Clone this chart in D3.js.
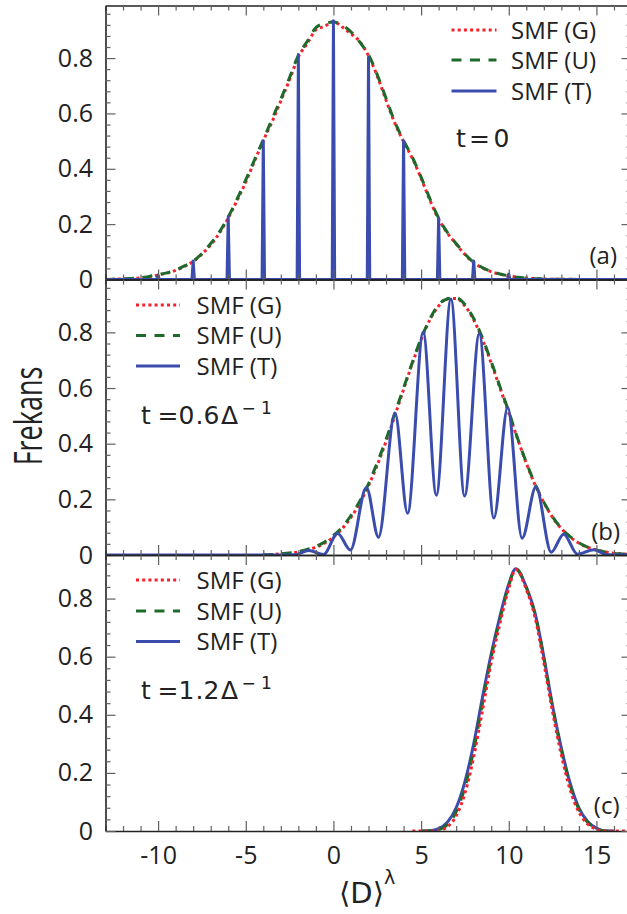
<!DOCTYPE html>
<html>
<head>
<meta charset="utf-8">
<script src="https://cdn.jsdelivr.net/npm/d3@7"></script>
<style>
  body { margin: 0; background: #fff; }
  svg { display: block; }
</style>
</head>
<body>
<svg id="chart" width="627" height="914"></svg>
<script>
// ---- Panel (a): t = 0 ----
const aX = [-13,-12.5,-12,-11.5,-11,-10.5,-10,-9.5,-9,-8.5,-8,-7.5,-7,-6.5,-6,-5.5,-5,-4.5,-4,-3.5,-3,-2.5,-2,-1.5,-1,-0.5,0,0.5,1,1.5,2,2.5,3,3.5,4,4.5,5,5.5,6,6.5,7,7.5,8,8.5,9,9.5,10,10.5,11,11.5,12,12.5,13,14,15,16,17];
const aG = [0,0.001,0.002,0.003,0.006,0.010,0.016,0.023,0.033,0.047,0.065,0.092,0.125,0.168,0.222,0.285,0.352,0.428,0.502,0.570,0.645,0.722,0.805,0.852,0.902,0.915,0.932,0.912,0.888,0.860,0.808,0.735,0.648,0.565,0.498,0.438,0.366,0.287,0.218,0.168,0.128,0.090,0.060,0.042,0.028,0.019,0.013,0.008,0.005,0.003,0.002,0.001,0.001,0,0,0,0];
const aU = [0,0.001,0.002,0.004,0.006,0.011,0.018,0.024,0.034,0.049,0.066,0.094,0.130,0.172,0.226,0.290,0.360,0.432,0.505,0.580,0.652,0.730,0.810,0.860,0.910,0.925,0.930,0.918,0.895,0.858,0.812,0.740,0.655,0.570,0.502,0.442,0.370,0.292,0.222,0.170,0.130,0.092,0.062,0.043,0.029,0.020,0.013,0.008,0.005,0.003,0.002,0.001,0.001,0,0,0,0];
// SMF (T) at t = 0: narrow spikes on even integers
const aSpikeX = [-10,-8,-6,-4,-2,0,2,4,6,8,10];
const aSpikeY = [0.016,0.067,0.227,0.501,0.813,0.935,0.802,0.501,0.221,0.067,0.020];

// ---- Panel (b): t = 0.6 / Delta ----
const bX = [-4,-3.5,-3,-2.5,-2,-1.5,-1,-0.5,0,0.5,1,1.5,2,2.5,3,3.5,4,4.5,5,5.5,6,6.5,7,7.5,8,8.5,9,9.5,10,10.5,11,11.5,12,12.5,13,13.5,14,14.5,15,15.5,16,16.5,17];
const bG = [0.001,0.002,0.004,0.006,0.011,0.018,0.028,0.043,0.065,0.095,0.135,0.186,0.249,0.323,0.408,0.500,0.595,0.689,0.774,0.845,0.895,0.922,0.922,0.895,0.845,0.774,0.689,0.600,0.510,0.418,0.330,0.252,0.188,0.135,0.095,0.065,0.043,0.028,0.018,0.011,0.006,0.004,0.002];
const bU = [0.001,0.002,0.004,0.007,0.012,0.020,0.031,0.047,0.070,0.100,0.142,0.193,0.256,0.332,0.415,0.508,0.600,0.692,0.778,0.848,0.900,0.920,0.925,0.900,0.850,0.780,0.695,0.605,0.515,0.420,0.333,0.255,0.190,0.137,0.096,0.066,0.044,0.028,0.018,0.011,0.006,0.004,0.002];
// SMF (T): alternating maxima / minima of the oscillation
const bTX = [-13,-3,-2.2,-1.4,-0.57,0.24,0.97,1.88,2.57,3.51,4.23,5.12,5.87,6.70,7.48,8.32,9.15,9.94,10.76,11.55,12.42,13.13,13.92,14.85,15.6,17];
const bTY = [0,0,0.001,0.016,0.002,0.077,0.018,0.243,0.064,0.510,0.150,0.800,0.215,0.920,0.212,0.795,0.133,0.530,0.060,0.245,0.010,0.075,0.003,0.019,0.001,0.001];

// ---- Panel (c): t = 1.2 / Delta ----
const cGX = [4.5,5,5.5,6,6.5,7,7.5,8,8.5,9,9.5,10,10.4,11,11.5,12,12.5,13,13.5,14,14.5,15,15.5,16,17];
const cGY = [0,0,0,0.002,0.014,0.052,0.130,0.255,0.415,0.580,0.715,0.835,0.900,0.832,0.735,0.580,0.410,0.262,0.142,0.065,0.024,0.006,0,0,0];
const cUX = [5,5.5,6,6.5,7,7.5,8,8.5,9,9.5,10,10.4,11,11.5,12,12.5,13,13.5,14,14.5,15,15.5,16];
const cUY = [0,0.001,0.005,0.022,0.066,0.150,0.278,0.440,0.598,0.730,0.845,0.902,0.838,0.745,0.595,0.425,0.278,0.158,0.075,0.030,0.008,0,0];
const cTX = [5,5.5,6,6.5,7,7.5,8,8.5,9,9.5,10,10.4,11,11.5,12,12.5,13,13.5,14,14.5,15,15.5,16];
const cTY = [0,0.001,0.008,0.030,0.080,0.170,0.300,0.460,0.610,0.740,0.850,0.903,0.840,0.750,0.600,0.430,0.285,0.165,0.080,0.033,0.010,0,0];

// ---- axis ticks and labels ----
const xMajor = [-10,-5,0,5,10,15];
const xMinor = [-13,-12,-11,-9,-8,-7,-6,-4,-3,-2,-1,1,2,3,4,6,7,8,9,11,12,13,14,16,17];
const yMajor = [0,0.2,0.4,0.6,0.8];
const yMinor = [0.04,0.08,0.12,0.16,0.24,0.28,0.32,0.36,0.44,0.48,0.52,0.56,0.64,0.68,0.72,0.76,0.84,0.88,0.92,0.96];
const seriesNames = ["SMF (G)", "SMF (U)", "SMF (T)"];
const panelTags = ["(a)", "(b)", "(c)"];

const colors = { G: "#f5222d", U: "#1d6b2b", T: "#3a4cad" };
const dashes = { G: "3,3.2", U: "10,8.5", T: null };
const sansFont = "'Open Sans', 'DejaVu Sans', sans-serif";
const mathFont = "'DejaVu Sans', sans-serif";

const svg = d3.select("#chart");
const x = d3.scaleLinear().domain([-13, 17]).range([105.5, 631.5]);
const left = 105.5, right = 631.5;

const panels = [
  { top: 5.5,   bottom: 279.5, ymax: 0.99 },
  { top: 279.5, bottom: 555,   ymax: 0.99 },
  { top: 555,   bottom: 831,   ymax: 0.95 }
];
panels.forEach(p => { p.y = d3.scaleLinear().domain([0, p.ymax]).range([p.bottom, p.top]); });

const zip = (xs, ys) => xs.map((v, i) => [v, ys[i]]);

// build the t = 0 spike trace: baseline with a narrow triangle at every spike
function spikeTrace(xs, ys, half) {
  const pts = [[-13, 0]];
  xs.forEach((c, i) => { pts.push([c - half, 0], [c, ys[i]], [c + half, 0]); });
  pts.push([17, 0]);
  return pts;
}

const seriesByPanel = [
  { G: zip(aX, aG), U: zip(aX, aU), T: spikeTrace(aSpikeX, aSpikeY, 0.07), Tcurve: d3.curveLinear },
  { G: zip(bX, bG), U: zip(bX, bU), T: zip(bTX, bTY), Tcurve: d3.curveMonotoneX },
  { G: zip(cGX, cGY), U: zip(cUX, cUY), T: zip(cTX, cTY), Tcurve: d3.curveMonotoneX }
];

const defs = svg.append("defs");

panels.forEach((p, i) => {
  const g = svg.append("g");
  const clipId = "clip" + i;
  defs.append("clipPath").attr("id", clipId)
    .append("rect").attr("x", left).attr("y", p.top - 1)
    .attr("width", right - left).attr("height", p.bottom - p.top + 2);

  // curves (in the last panel T goes first so the dotted / dashed traces stay visible)
  const data = seriesByPanel[i];
  const plot = g.append("g").attr("clip-path", `url(#${clipId})`);
  const order = i === 2 ? ["T", "U", "G"] : ["G", "U", "T"];
  order.forEach(k => {
    const line = d3.line()
      .x(d => x(d[0])).y(d => p.y(d[1]))
      .curve(k === "T" ? data.Tcurve : d3.curveMonotoneX);
    plot.append("path")
      .attr("d", line(data[k]))
      .attr("fill", "none")
      .attr("stroke", colors[k])
      .attr("stroke-width", 3)
      .attr("stroke-linejoin", "round")
      .attr("stroke-dasharray", dashes[k]);
  });

  // axes: inward ticks on all four sides
  const tickStyle = sel => {
    sel.selectAll(".tick line").attr("stroke", "#606060").attr("stroke-width", 1.2);
    sel.select(".domain").attr("stroke", "#222").attr("stroke-width", 1.6);
  };
  const noDomain = sel => { sel.select(".domain").remove(); sel.selectAll(".tick line").attr("stroke", "#606060").attr("stroke-width", 1.2); };

  // bottom
  const bottomAxis = g.append("g").attr("transform", `translate(0,${p.bottom})`)
    .call(d3.axisBottom(x).tickValues(xMajor).tickSize(-10).tickSizeOuter(0).tickPadding(15)
      .tickFormat(i === 2 ? (d => String(d)) : () => ""));
  tickStyle(bottomAxis);
  bottomAxis.selectAll("text").attr("font-family", sansFont).attr("font-size", 25).attr("fill", "#222");
  g.append("g").attr("transform", `translate(0,${p.bottom})`)
    .call(d3.axisBottom(x).tickValues(xMinor).tickSize(-5).tickFormat(() => "")).call(noDomain);
  // top
  const topAxis = g.append("g").attr("transform", `translate(0,${p.top})`)
    .call(d3.axisTop(x).tickValues(xMajor).tickSize(-10).tickSizeOuter(0).tickFormat(() => ""));
  tickStyle(topAxis);
  g.append("g").attr("transform", `translate(0,${p.top})`)
    .call(d3.axisTop(x).tickValues(xMinor).tickSize(-5).tickFormat(() => "")).call(noDomain);
  // left
  const leftAxis = g.append("g").attr("transform", `translate(${left},0)`)
    .call(d3.axisLeft(p.y).tickValues(yMajor).tickSize(-10).tickSizeOuter(0).tickPadding(12.5)
      .tickFormat(d => d === 0 ? "0" : d3.format(".1f")(d)));
  tickStyle(leftAxis);
  leftAxis.selectAll("text").attr("font-family", sansFont).attr("font-size", 25).attr("fill", "#222");
  g.append("g").attr("transform", `translate(${left},0)`)
    .call(d3.axisLeft(p.y).tickValues(yMinor.filter(v => v < p.ymax)).tickSize(-5).tickFormat(() => "")).call(noDomain);
  // right
  const rightAxis = g.append("g").attr("transform", `translate(${right},0)`)
    .call(d3.axisRight(p.y).tickValues(yMajor).tickSize(-10).tickSizeOuter(0).tickFormat(() => ""));
  tickStyle(rightAxis);
  g.append("g").attr("transform", `translate(${right},0)`)
    .call(d3.axisRight(p.y).tickValues(yMinor.filter(v => v < p.ymax)).tickSize(-5).tickFormat(() => "")).call(noDomain);
});

// ---- legends ----
const legends = [
  { x0: 451.5, x1: 496.5, tx: 511, rows: [30, 60, 91] },
  { x0: 136,   x1: 180,   tx: 196.5, rows: [305, 335.5, 366] },
  { x0: 136,   x1: 180,   tx: 196.5, rows: [580, 611, 641.5] }
];
legends.forEach(L => {
  const lg = svg.append("g");
  ["G", "U", "T"].forEach((k, j) => {
    lg.append("line").attr("x1", L.x0).attr("x2", L.x1)
      .attr("y1", L.rows[j]).attr("y2", L.rows[j])
      .attr("stroke", colors[k]).attr("stroke-width", 3)
      .attr("stroke-dasharray", dashes[k]);
    lg.append("text").attr("x", L.tx).attr("y", L.rows[j]).attr("dy", "0.36em")
      .attr("font-family", sansFont).attr("font-size", 24).attr("fill", "#222")
      .text(seriesNames[j]);
  });
});

// ---- panel tags ----
[[617, 263.5], [620, 540], [619.5, 813.5]].forEach((pos, i) => {
  svg.append("text").attr("x", pos[0]).attr("y", pos[1]).attr("text-anchor", "end")
    .attr("font-family", sansFont).attr("font-size", 24).attr("fill", "#222")
    .text(panelTags[i]);
});

// ---- time annotations ----
function timeLabel(parts, baseline) {
  const t = svg.append("text").attr("y", baseline)
    .attr("font-family", mathFont).attr("font-size", 25).attr("fill", "#222");
  parts.forEach(pt => {
    t.append("tspan").attr("x", pt[0]).attr("y", baseline - (pt[2] || 0))
      .attr("font-size", pt[3] || 25).text(pt[1]);
  });
}
timeLabel([[456, "t"], [469, "="], [493.5, "0"]], 147);
timeLabel([[141, "t"], [157.5, "="], [178.5, "0"], [195.5, "."], [203.5, "6"], [221, "\u0394"], [241.5, "\u2212", 10, 17], [261, "1", 10, 17]], 423.5);
timeLabel([[141, "t"], [157.5, "="], [178.5, "1"], [195.5, "."], [203.5, "2"], [221, "\u0394"], [241.5, "\u2212", 10, 17], [261, "1", 10, 17]], 698.5);

// ---- axis titles ----
const xt = svg.append("text").attr("x", 339).attr("y", 903)
  .attr("font-family", mathFont).attr("font-size", 29).attr("fill", "#222");
xt.append("tspan").text("\u27E8D\u27E9");
xt.append("tspan").attr("dy", -19).attr("font-size", 19).text("\u03BB");

svg.append("text")
  .attr("transform", "translate(41.5,416) rotate(-90) scale(0.71,1)")
  .attr("text-anchor", "middle")
  .attr("font-family", sansFont).attr("font-size", 38).attr("fill", "#222")
  .text("Frekans");
</script>
</body>
</html>
